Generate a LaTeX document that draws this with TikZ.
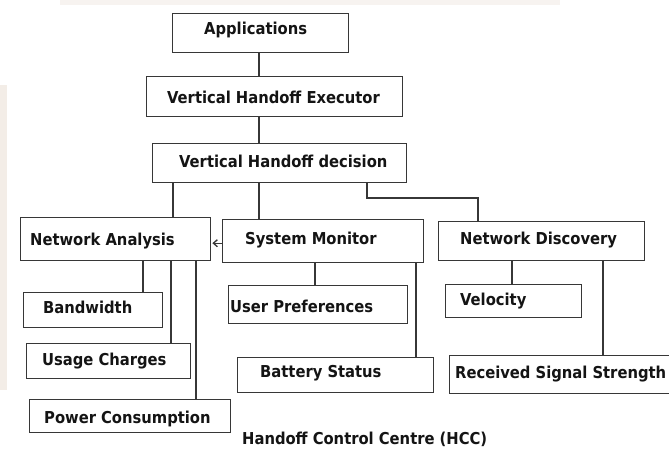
\documentclass[tikz,border=0pt]{standalone}
\usepackage{fontspec}
\newfontfamily\boxfont{DejaVu Sans Condensed}
\usetikzlibrary{arrows.meta}
\definecolor{edge}{RGB}{55,55,55}
\definecolor{tint}{RGB}{241,233,226}
\tikzset{
  box/.style={draw=edge, line width=1.4pt, fill=white, anchor=north west, inner sep=0pt},
  txt/.style={anchor=base west, inner sep=0pt, font=\boxfont\bfseries\fontsize{16.4}{18}\selectfont, text=black!92},
  wire/.style={draw=edge, line width=1.4pt}
}
\begin{document}
\begin{tikzpicture}[x=1pt, y=-1pt]
\useasboundingbox (0,0) rectangle (669,448);
\fill[white] (0,0) rectangle (669,448);
% faint tinted margins
\fill[tint, opacity=0.8] (0,85) rectangle (7,390);
\fill[tint, opacity=0.5] (60,0) rectangle (560,5);

% boxes
\node[box, minimum width=176, minimum height=39] (app) at (172,13) {};
\node[box, minimum width=256, minimum height=40] (vhe) at (146,76) {};
\node[box, minimum width=254, minimum height=39] (vhd) at (152,143) {};
\node[box, minimum width=190, minimum height=43] (na)  at (20,217) {};
\node[box, minimum width=201, minimum height=43] (sm)  at (222,219) {};
\node[box, minimum width=206, minimum height=39] (nd)  at (438,221) {};
\node[box, minimum width=139, minimum height=35] (bw)  at (23,292) {};
\node[box, minimum width=179, minimum height=38] (up)  at (228,285) {};
\node[box, minimum width=136, minimum height=33] (vel) at (445,284) {};
\node[box, minimum width=164, minimum height=35] (uc)  at (26,343) {};
\node[box, minimum width=196, minimum height=35] (bs)  at (237,357) {};
\node[box, minimum width=232, minimum height=38] (rss) at (449,355) {};
\node[box, minimum width=201, minimum height=33] (pc)  at (29,399) {};

% labels
\node[txt] (tapp) at (204,34)  {Applications};
\node[txt] (tvhe) at (167,103) {Vertical Handoff Executor};
\node[txt] (tvhd) at (179,167) {Vertical Handoff decision};
\node[txt] (tna)  at (30,245)  {Network Analysis};
\node[txt] (tsm)  at (245,244) {System Monitor};
\node[txt] (tnd)  at (460,244) {Network Discovery};
\node[txt] (tbw)  at (43,313)  {Bandwidth};
\node[txt] (tup)  at (230,312) {User Preferences};
\node[txt] (tvel) at (460,305) {Velocity};
\node[txt] (tuc)  at (42,365)  {Usage Charges};
\node[txt] (tbs)  at (260,377) {Battery Status};
\node[txt] (trss) at (455,378) {Received Signal Strength};
\node[txt] (tpc)  at (44,423)  {Power Consumption};
\node[txt] (hcc)  at (242,444) {Handoff Control Centre (HCC)};

% columns used by the connectors
\coordinate (xa) at (259,0);
\coordinate (xb) at (173,0);
\coordinate (xc) at (367,198);
\coordinate (xd) at (478,198);
\coordinate (xe) at (143,0);
\coordinate (xf) at (171,0);
\coordinate (xg) at (196,0);
\coordinate (xh) at (315,0);
\coordinate (xi) at (416,0);
\coordinate (xj) at (512,0);
\coordinate (xk) at (603,0);

% connectors
\draw[wire] (app.south -| xa) -- (vhe.north -| xa);
\draw[wire] (vhe.south -| xa) -- (vhd.north -| xa);
\draw[wire] (vhd.south -| xb) -- (na.north -| xb);
\draw[wire] (vhd.south -| xa) -- (sm.north -| xa);
\draw[wire] (vhd.south -| xc) -- (xc) -- (xd) -- (nd.north -| xd);
\draw[wire] (na.south -| xe) -- (bw.north -| xe);
\draw[wire] (na.south -| xf) -- (uc.north -| xf);
\draw[wire] (na.south -| xg) -- (pc.north -| xg);
\draw[wire] (sm.south -| xh) -- (up.north -| xh);
\draw[wire] (sm.south -| xi) -- (bs.north -| xi);
\draw[wire] (nd.south -| xj) -- (vel.north -| xj);
\draw[wire] (nd.south -| xk) -- (rss.north -| xk);
\draw[draw=edge, line width=1.3pt, -{Straight Barb[length=4pt,width=7pt]}]
  ([yshift=-2pt]sm.west) -- ([yshift=-2pt,xshift=1pt]sm.west -| na.east);
\end{tikzpicture}
\end{document}
